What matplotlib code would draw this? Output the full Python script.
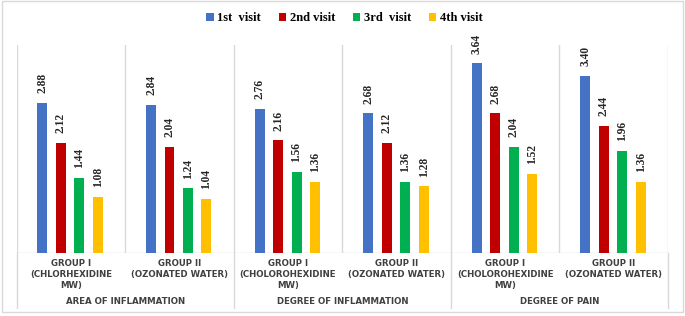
import numpy as np
import matplotlib.pyplot as plt
from matplotlib.patches import Rectangle

# data
groups = ["GROUP I\n(CHLORHEXIDINE\nMW)", "GROUP II\n(OZONATED WATER)",
          "GROUP I\n(CHOLOROHEXIDINE\nMW)", "GROUP II\n(OZONATED WATER)",
          "GROUP I\n(CHOLOROHEXIDINE\nMW)", "GROUP II\n(OZONATED WATER)"]
outcomes = ["AREA OF INFLAMMATION", "DEGREE OF INFLAMMATION", "DEGREE OF PAIN"]
visits = ["1st  visit", "2nd visit", "3rd  visit", "4th visit"]
visit1 = [2.88, 2.84, 2.76, 2.68, 3.64, 3.40]
visit2 = [2.12, 2.04, 2.16, 2.12, 2.68, 2.44]
visit3 = [1.44, 1.24, 1.56, 1.36, 2.04, 1.96]
visit4 = [1.08, 1.04, 1.36, 1.28, 1.52, 1.36]

colors = ["#4472C4", "#C00000", "#00B050", "#FFC000"]
grid_c = "#D9D9D9"
text_c = "#404040"

fig = plt.figure(figsize=(6.85, 3.16), dpi=100)
ax = fig.add_axes([0.0241, 0.1994, 0.9511, 0.6596])

x = np.arange(len(groups))
step = 0.17
width = 0.092
series = [visit1, visit2, visit3, visit4]
for i, vals in enumerate(series):
    bars = ax.bar(x + (i - 1.5) * step - 0.006, vals, width, color=colors[i],
                  label=visits[i], zorder=2)
    ax.bar_label(bars, labels=["%.2f" % v for v in vals], rotation=90,
                 padding=7, fontsize=8.3, fontweight="bold",
                 family="Liberation Serif", color="#262626")

ax.set_xlim(-0.5, len(groups) - 0.5)
ax.set_ylim(0, 4)
ax.set_xticks([])
ax.set_yticks([])
for s in ax.spines.values():
    s.set_visible(False)

# vertical gridlines between categories
for b in np.arange(-0.5, len(groups), 1.0):
    ax.axvline(b, color=grid_c, lw=1, zorder=1)
ax.axhline(0, color=grid_c, lw=1, zorder=1)

# multi-level category axis
trans = ax.get_xaxis_transform()
for b in [-0.5, 1.5, 3.5, 5.5]:
    ax.plot([b, b], [0, -0.264], color=grid_c, lw=1, transform=trans, clip_on=False)
for xi, g in zip(x, groups):
    ax.text(xi, -0.03, g, transform=trans, ha="center", va="top", fontsize=6.2,
            fontweight="bold", color=text_c, linespacing=1.25)
for k, o in enumerate(outcomes):
    ax.text(2 * k + 0.5, -0.235, o, transform=trans, ha="center", va="center",
            fontsize=6.2, fontweight="bold", color=text_c)

leg = fig.legend(loc="center", bbox_to_anchor=(0.503, 0.943), ncol=4, frameon=False,
                 prop={"family": "Liberation Serif", "weight": "bold", "size": 9},
                 handlelength=0.6, handleheight=0.6, handletextpad=0.3, columnspacing=1.4)

fig.patches.append(Rectangle((0.003, 0.013), 0.994, 0.984, transform=fig.transFigure,
                             fill=False, edgecolor=grid_c, lw=1))

fig.savefig("out.png", dpi=100)
